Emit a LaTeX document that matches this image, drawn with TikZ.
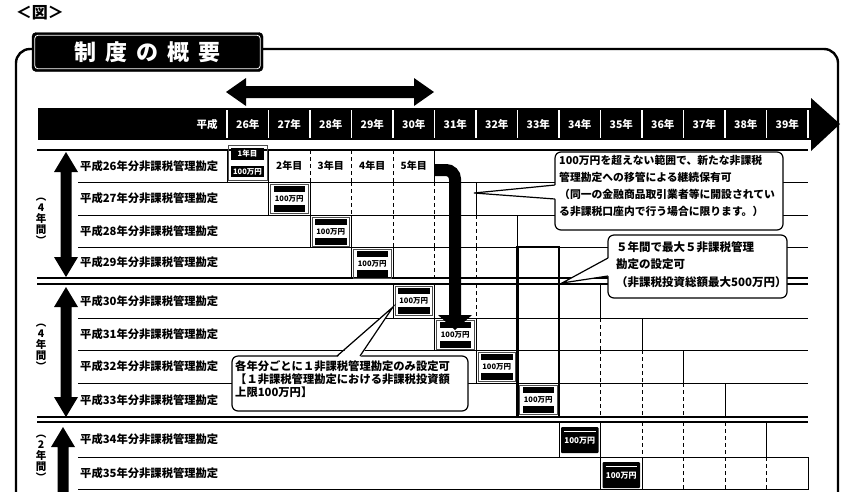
\documentclass[tikz,border=0pt]{standalone}
\usepackage{fontspec}
\setmainfont{Noto Sans CJK JP}
\usetikzlibrary{calc}
\newcommand\myvarrow[3]{\fill (#1,#2) -- (#1+12,#2+20) -- (#1+5.5,#2+20) -- (#1+5.5,#3-20) -- (#1+12,#3-20) -- (#1,#3) -- (#1-12,#3-20) -- (#1-5.5,#3-20) -- (#1-5.5,#2+20) -- (#1-12,#2+20) -- cycle;}
\begin{document}
\begin{tikzpicture}[x=1pt,y=-1pt,
  frame/.style={line width=2.4pt, rounded corners=14pt},
  rowl/.style={line width=1pt},
  sepl/.style={line width=1.6pt},
  celll/.style={line width=0.9pt},
  dashl/.style={line width=0.9pt, dash pattern=on 4pt off 3pt},
  lbl/.style={font=\fontsize{11.3}{12}\selectfont\bfseries, anchor=west, inner sep=0pt},
  yrlab/.style={font=\fontsize{10.5}{11}\selectfont\bfseries, text=white, inner sep=0pt},
  celltxt/.style={font=\fontsize{10}{11}\selectfont\bfseries, inner sep=0pt},
  money/.style={font=\fontsize{7.5}{8}\selectfont\bfseries, inner sep=0pt},
  callbox/.style={draw, fill=white, line width=1.2pt, rounded corners=6pt, inner sep=0pt},
  calltxt/.style={align=left, anchor=north west, inner sep=0pt},
  vlab/.style={font=\fontsize{10.5}{11}\selectfont\bfseries, align=center, inner sep=0pt},
]
\useasboundingbox (0,0) rectangle (842,491);
\clip (0,0) rectangle (842,491);

% caption and frame
\node[font=\fontsize{16}{18}\selectfont\bfseries, inner sep=0pt] (fig) at (40,13) {＜図＞};
\draw[frame] (16,500) -- (16,49) -- (838,49) -- (838,500);
\node[fill=black, draw=black, rounded corners=4pt, minimum width=231pt, minimum height=39pt, inner sep=0pt] (title) at (147.5,52) {};
\draw[white, line width=0.8pt, rounded corners=3pt] ($(title.north west)+(3,3)$) rectangle ($(title.south east)+(-3,-3)$);
\node[text=white, font=\fontsize{22}{24}\selectfont\bfseries, inner sep=0pt] (titletxt) at (title.center) {制\hspace{9pt}度\hspace{9pt}の\hspace{9pt}概\hspace{9pt}要};

% top double arrow
\fill (226,92) -- (246,78) -- (246,86) -- (414,86) -- (414,78) -- (434,92) -- (414,106) -- (414,98) -- (246,98) -- (246,106) -- cycle;

% header bar
\fill (38,108) rectangle (812,140);
\fill (811,98) -- (840,124) -- (811,151) -- cycle;
\node[yrlab] (heisei) at (207,124) {平成};
\foreach \i in {0,...,13} {
  \pgfmathtruncatemacro\yv{26+\i}
  \draw[white, line width=1.5pt] (227+41.5*\i,110) -- (227+41.5*\i,138);
  \node[yrlab] (yr\yv) at (247.75+41.5*\i,124) {\yv 年};
}
\draw[white, line width=1.5pt] (808,110) -- (808,138);

% horizontal lines
\draw[sepl] (37,150) -- (808,150);
\foreach \yy in {182,215,247,318,350,383,457,489} { \draw[rowl] (78,\yy) -- (808,\yy); }
\foreach \yy in {278,284,417,422} { \draw[sepl] (37,\yy) -- (808,\yy); }

% rows
\foreach \yv/\t/\b/\s in {26/150/182/0,27/182/215/1,28/215/247/2,29/247/278/3,30/284/318/4,31/318/350/5,32/350/383/6,33/383/417/7,34/422/457/8,35/457/489/9} {
  \pgfmathsetmacro\xa{227+41.5*\s}
  \pgfmathsetmacro\xb{\xa+41.5*5}
  \draw[celll] (\xa,\t) rectangle (\xb,\b);
  \draw[celll] (\xa+41.5,\t) -- (\xa+41.5,\b);
  \foreach \k in {2,3,4} { \draw[dashl] (\xa+41.5*\k,\t) -- (\xa+41.5*\k,\b); }
  \node[lbl] (row\yv) at (80,{(\t+\b)/2}) {平成\yv 年分非課税管理勘定};
}

% row 26 first-year box and year cells
\draw[line width=0.8pt, draw=black!70] (228,145) rectangle (267,180);
\fill (231,148) rectangle (264,160);
\node[money, text=white] (y1) at (247.5,154) {1年目};
\fill (231,166) rectangle (264,177);
\node[money, text=white] (m26) at (247.5,171.5) {100万円};
\node[celltxt] (c2) at (289.25,166) {2年目};
\node[celltxt] (c3) at (330.75,166) {3年目};
\node[celltxt] (c4) at (372.25,166) {4年目};
\node[celltxt] (c5) at (413.75,166) {5年目};

% 100万円 icons rows 27-33
\foreach \yv/\t/\s in {27/182/1,28/215/2,29/247/3,30/284/4,31/318/5,32/350/6,33/383/7} {
  \pgfmathsetmacro\xa{227+41.5*\s}
  \draw[line width=0.8pt, draw=black!70] (\xa+2,\t+2) rectangle (\xa+39.5,\t+31);
  \fill (\xa+5,\t+4) rectangle (\xa+36.5,\t+10);
  \node[money] (m\yv) at (\xa+20.75,\t+16.5) {100万円};
  \fill (\xa+5,\t+23) rectangle (\xa+36.5,\t+30);
}
% rows 34-35 black icons
\foreach \yv/\t/\s in {34/422/8,35/457/9} {
  \pgfmathsetmacro\xa{227+41.5*\s}
  \fill[rounded corners=1pt] (\xa+2,\t+5) rectangle (\xa+39.5,\t+31);
  \draw[white, line width=0.8pt] (\xa+5,\t+9) -- (\xa+36.5,\t+9);
  \node[money, text=white, font=\fontsize{8}{9}\selectfont\bfseries] (m\yv) at (\xa+20.75,\t+19) {100万円};
}

% highlight column 33
\draw[line width=2.6pt] (517.5,247) rectangle (559,417);

% rollover arrow
\coordinate (rs) at (434,170);
\coordinate (rc) at (455,170);
\coordinate (re) at (455,317);
\draw[line width=12pt, rounded corners=9pt] (rs) -- (rc) -- (re);
\fill (438,315) -- (472,315) -- (455,330) -- cycle;

% left period arrows
\myvarrow{66}{152}{277}
\myvarrow{66}{287}{417}
\myvarrow{63}{427}{530}
\node[vlab] (p1) at (41,221) {︵\\4\\年\\間\\︶};
\node[vlab] (p2) at (41,347) {︵\\4\\年\\間\\︶};
\node[vlab] (p3) at (41,458) {︵\\2\\年\\間\\︶};

% callout 1
\node[callbox, minimum width=228pt, minimum height=78pt] (co1) at (669,191) {};
\coordinate (t1) at (474,193);
\fill[white] (553.6,185) -- (t1) -- (553.6,199) -- (556.6,199) -- (556.6,185) -- cycle;
\draw[line width=1.2pt] (555,185) -- (t1) -- (555,199);
\node[calltxt, font=\fontsize{10.8}{17}\selectfont\bfseries] (co1t) at (559,155) {100万円を超えない範囲で、新たな非課税\\管理勘定への移管による継続保有可\\（同一の金融商品取引業者等に開設されてい\\る非課税口座内で行う場合に限ります。）};

% callout 2
\node[callbox, minimum width=179pt, minimum height=63pt] (co2) at (697.5,266.5) {};
\coordinate (t2) at (562,283);
\fill[white] (606.6,258) -- (t2) -- (606.6,276) -- (609.6,276) -- (609.6,258) -- cycle;
\draw[line width=1.2pt] (608,258) -- (t2) -- (608,276);
\node[calltxt, font=\fontsize{11.5}{17.5}\selectfont\bfseries] (co2t) at (616,241) {５年間で最大５非課税管理\\勘定の設定可\\（非課税投資総額最大500万円）};

% callout 3
\node[callbox, minimum width=236pt, minimum height=55pt] (co3) at (350,383.5) {};
\coordinate (t3) at (393,307);
\fill[white] (337,357.6) -- (t3) -- (360,357.6) -- cycle;
\fill[white] (339,354.6) rectangle (358,357.6);
\draw[line width=1.2pt] (337,356) -- (t3) -- (360,356);
\node[calltxt, font=\fontsize{11.3}{13}\selectfont\bfseries] (co3t) at (235,360) {各年分ごとに１非課税管理勘定のみ設定可\\【１非課税管理勘定における非課税投資額\\上限100万円】};
\end{tikzpicture}
\end{document}
